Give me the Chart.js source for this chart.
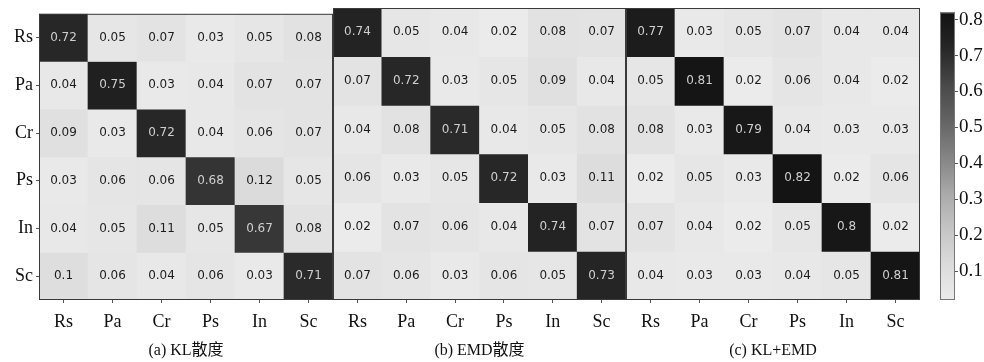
<!DOCTYPE html>
<html>
<head>
<meta charset="utf-8">
<script src="https://cdn.jsdelivr.net/npm/chart.js@4"></script>
<style>
  body { margin:0; background:#fff; width:984px; height:362px; overflow:hidden; position:relative; }
  .pane { position:absolute; top:0; height:362px; }
</style>
</head>
<body>
<div class="pane" style="left:0;width:334px"><canvas id="cmA"></canvas></div>
<div class="pane" style="left:333px;width:294px"><canvas id="cmB"></canvas></div>
<div class="pane" style="left:626px;width:295px"><canvas id="cmC"></canvas></div>
<div class="pane" style="left:930px;width:54px"><canvas id="cbar"></canvas></div>
<script>
// class names, rows = true class, columns = predicted
var classes = ["Rs", "Pa", "Cr", "Ps", "In", "Sc"];

var kl_vals = [
  [0.72, 0.05, 0.07, 0.03, 0.05, 0.08],
  [0.04, 0.75, 0.03, 0.04, 0.07, 0.07],
  [0.09, 0.03, 0.72, 0.04, 0.06, 0.07],
  [0.03, 0.06, 0.06, 0.68, 0.12, 0.05],
  [0.04, 0.05, 0.11, 0.05, 0.67, 0.08],
  [0.1,  0.06, 0.04, 0.06, 0.03, 0.71]
];
var emd_vals = [
  [0.74, 0.05, 0.04, 0.02, 0.08, 0.07],
  [0.07, 0.72, 0.03, 0.05, 0.09, 0.04],
  [0.04, 0.08, 0.71, 0.04, 0.05, 0.08],
  [0.06, 0.03, 0.05, 0.72, 0.03, 0.11],
  [0.02, 0.07, 0.06, 0.04, 0.74, 0.07],
  [0.07, 0.06, 0.03, 0.06, 0.05, 0.73]
];
var klemd_vals = [
  [0.77, 0.03, 0.05, 0.07, 0.04, 0.04],
  [0.05, 0.81, 0.02, 0.06, 0.04, 0.02],
  [0.08, 0.03, 0.79, 0.04, 0.03, 0.03],
  [0.02, 0.05, 0.03, 0.82, 0.02, 0.06],
  [0.07, 0.04, 0.02, 0.05, 0.8,  0.02],
  [0.04, 0.03, 0.03, 0.04, 0.05, 0.81]
];
var titles = ["(a) KL散度", "(b) EMD散度", "(c) KL+EMD"];
var cbar_ticks = [0.1, 0.2, 0.3, 0.4, 0.5, 0.6, 0.7, 0.8];
var vmin = 0.02, vmax = 0.82;

var SERIF = "'Liberation Serif','Times New Roman','Noto Sans CJK SC',serif";
// matplotlib "Greys" stops
var greys = [255, 240, 217, 189, 150, 115, 82, 37, 0];

function greyLevel(v) {
  var t = (v - vmin) / (vmax - vmin);
  t = Math.max(0, Math.min(1, t)) * 8;
  var i = Math.min(7, Math.floor(t));
  var g = greys[i] + (greys[i + 1] - greys[i]) * (t - i);
  return Math.round(20 + 215 * Math.pow(g / 255, 1.25));
}
function greyColor(v) {
  var g = greyLevel(v);
  return "rgb(" + g + "," + g + "," + g + ")";
}

// frame + cell numbers, drawn from the bar elements
var cellText = {
  id: "cellText",
  afterDatasetsDraw: function(chart) {
    var ctx = chart.ctx, ca = chart.chartArea;
    ctx.save();
    ctx.font = "12px 'DejaVu Sans'";
    ctx.textAlign = "center";
    ctx.textBaseline = "middle";
    chart.data.datasets.forEach(function(ds, di) {
      var meta = chart.getDatasetMeta(di);
      meta.data.forEach(function(bar, j) {
        var v = ds.cellVals[j];
        ctx.fillStyle = greyLevel(v) < 120 ? "#cfcfcf" : "#1c1c1c";
        ctx.fillText(String(v), bar.x, (bar.y + bar.base) / 2);
      });
    });
    ctx.strokeStyle = "#3a3a3a";
    ctx.lineWidth = 1;
    ctx.strokeRect(ca.left + 0.5, ca.top + 0.5, ca.right - ca.left - 1, ca.bottom - ca.top - 1);
    ctx.restore();
  }
};

function matrixChart(id, vals, title, showY) {
  var datasets = vals.map(function(row, i) {
    return {
      data: row.map(function() { return [i - 0.5, i + 0.5]; }),
      cellVals: row,
      backgroundColor: row.map(greyColor),
      borderWidth: 0,
      grouped: false,
      barPercentage: 1,
      categoryPercentage: 1
    };
  });
  return new Chart(document.getElementById(id), {
    type: "bar",
    data: { labels: classes, datasets: datasets },
    options: {
      responsive: true,
      maintainAspectRatio: false,
      animation: false,
      layout: { padding: { top: 8, right: 1, left: 0, bottom: 0 } },
      plugins: { legend: { display: false }, tooltip: { enabled: false } },
      scales: {
        x: {
          grid: { display: true, drawOnChartArea: false, drawTicks: true, tickLength: 3, offset: false, color: "#555" },
          border: { display: false },
          ticks: { color: "#111", font: { family: SERIF, size: 18 }, padding: 8 },
          title: { display: true, text: title, color: "#111", font: { family: SERIF, size: 16 }, padding: { top: 0, bottom: 2 } },
          afterFit: function(s) { s.height = 62; }
        },
        y: {
          display: showY,
          type: "linear",
          reverse: true,
          min: -0.5,
          max: 5.5,
          grid: { display: true, drawOnChartArea: false, drawTicks: true, tickLength: 3, color: "#555" },
          border: { display: false },
          afterBuildTicks: function(s) { s.ticks = classes.map(function(c, i) { return { value: i }; }); },
          ticks: {
            color: "#111", font: { family: SERIF, size: 18 }, padding: 3,
            callback: function(v) { return classes[v]; }
          },
          afterFit: function(s) { s.width = showY ? 39 : 0; }
        }
      }
    },
    plugins: [cellText]
  });
}

matrixChart("cmA", kl_vals, titles[0], true);
matrixChart("cmB", emd_vals, titles[1], false);
matrixChart("cmC", klemd_vals, titles[2], false);

// colour bar
new Chart(document.getElementById("cbar"), {
  type: "bar",
  data: {
    labels: [""],
    datasets: [{
      data: [[vmin, vmax]],
      borderWidth: 0,
      barPercentage: 1,
      categoryPercentage: 1,
      backgroundColor: function(c) {
        var ca = c.chart.chartArea;
        if (!ca) return "#888";
        var g = c.chart.ctx.createLinearGradient(0, ca.bottom, 0, ca.top);
        for (var k = 0; k <= 32; k++) g.addColorStop(k / 32, greyColor(vmin + (vmax - vmin) * k / 32));
        return g;
      }
    }]
  },
  options: {
    responsive: true,
    maintainAspectRatio: false,
    animation: false,
    layout: { padding: { top: 8, bottom: 62, left: 10, right: 0 } },
    plugins: { legend: { display: false }, tooltip: { enabled: false } },
    scales: {
      x: { display: false },
      y: {
        position: "right",
        min: vmin,
        max: vmax,
        grid: { display: true, drawOnChartArea: false, drawTicks: true, tickLength: 3, color: "#555" },
        border: { display: false },
        afterBuildTicks: function(s) { s.ticks = cbar_ticks.map(function(v) { return { value: v }; }); },
        ticks: { color: "#111", font: { family: SERIF, size: 19 }, padding: 1, callback: function(v) { return v.toFixed(1); } },
        afterFit: function(s) { s.width = 29; }
      }
    }
  },
  plugins: [{
    id: "cbFrame",
    afterDatasetsDraw: function(chart) {
      var ca = chart.chartArea, ctx = chart.ctx;
      ctx.save();
      ctx.strokeStyle = "#777";
      ctx.strokeRect(ca.left + 0.5, ca.top + 0.5, ca.right - ca.left - 1, ca.bottom - ca.top - 1);
      ctx.restore();
    }
  }]
});
</script>
</body>
</html>
